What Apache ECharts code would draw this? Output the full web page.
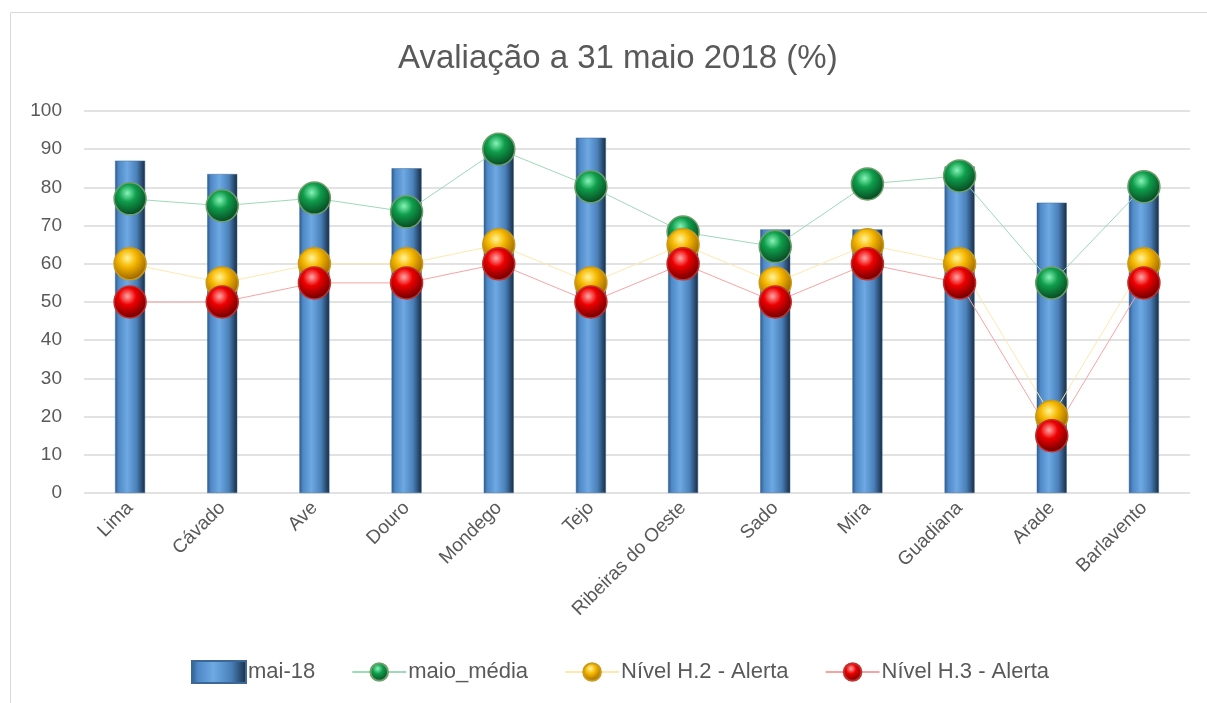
<!DOCTYPE html>
<html>
<head>
<meta charset="utf-8">
<script src="https://cdn.jsdelivr.net/npm/echarts@6/dist/echarts.min.js"></script>
<style>
  html, body { margin: 0; padding: 0; background: #fff; }
  #chart { width: 1207px; height: 703px; }
</style>
</head>
<body>
<div id="chart"></div>
<script>
// dados
const categorias = ["Lima", "Cávado", "Ave", "Douro", "Mondego", "Tejo", "Ribeiras do Oeste", "Sado", "Mira", "Guadiana", "Arade", "Barlavento"];
const mai18 = [87, 83.5, 76, 85, 92, 93, 64.5, 69, 69, 85.5, 76, 78];
const maioMedia = [77, 75.2, 77.2, 73.6, 90, 80.2, 68.3, 64.5, 80.9, 83, 55, 80.2];
const nivelH2 = [60, 55, 60, 60, 65, 55, 65, 55, 65, 60, 20, 60];
const nivelH3 = [50, 50, 55, 55, 60, 50, 60, 50, 60, 55, 15, 55];

const fonte = "'Liberation Sans', sans-serif";

function esfera(claro, meio, escuro) {
  return {
    type: "radial", x: 0.42, y: 0.33, r: 0.65,
    colorStops: [
      { offset: 0, color: claro },
      { offset: 0.4, color: meio },
      { offset: 1, color: escuro }
    ]
  };
}

const barraCor = {
  type: "linear", x: 0, y: 0, x2: 1, y2: 0,
  colorStops: [
    { offset: 0, color: "#2c5a8e" },
    { offset: 0.12, color: "#4f88c6" },
    { offset: 0.4, color: "#6ea9e3" },
    { offset: 0.72, color: "#4a80ba" },
    { offset: 1, color: "#172b42" }
  ]
};

function linha(nome, dados, corLinha, cor, borda) {
  return {
    name: nome,
    type: "line",
    data: dados,
    symbol: "circle",
    symbolSize: 32,
    lineStyle: { color: corLinha, width: 1 },
    itemStyle: { color: cor, borderColor: borda, borderWidth: 1.5 },
    emphasis: { disabled: true }
  };
}

const myChart = echarts.init(document.getElementById("chart"));
myChart.setOption({
  animation: false,
  textStyle: { fontFamily: fonte },
  title: {
    text: "Avaliação a 31 maio 2018 (%)",
    left: 393,
    top: 37,
    textStyle: { fontSize: 33, fontWeight: "normal", color: "#595959", fontFamily: fonte }
  },
  graphic: [{
    type: "rect",
    shape: { x: 10.5, y: 12.5, width: 1210, height: 720 },
    style: { fill: "none", stroke: "#d9d9d9", lineWidth: 1 },
    silent: true
  }],
  grid: { left: 84, right: 17, top: 111, bottom: 210 },
  legend: {
    bottom: 14,
    left: 186,
    itemWidth: 54,
    itemHeight: 22,
    itemGap: 36,
    textStyle: { fontSize: 22, color: "#595959", fontFamily: fonte, padding: [0, 0, 0, -3] },
    data: [
      { name: "mai-18", icon: "rect", itemStyle: { color: barraCor } },
      "maio_média", "Nível H.2 - Alerta", "Nível H.3 - Alerta"
    ]
  },
  xAxis: {
    type: "category",
    data: categorias,
    axisLine: { show: false },
    axisTick: { show: false },
    axisLabel: { rotate: 45, fontSize: 19, color: "#595959", margin: 12, interval: 0 }
  },
  yAxis: {
    type: "value",
    min: 0,
    max: 100,
    interval: 10,
    axisLabel: { fontSize: 19, color: "#595959", margin: 22 },
    splitLine: { lineStyle: { color: "#d9d9d9", width: 1.5 } }
  },
  series: [
    {
      name: "mai-18",
      type: "bar",
      data: mai18,
      barWidth: 30,
      itemStyle: { color: barraCor, borderColor: "#3d6896", borderWidth: 0.5 },
      emphasis: { disabled: true }
    },
    linha("maio_média", maioMedia, "#9ed9b8", esfera("#86f5b8", "#0f9e4c", "#084a22"), "#6f9f6a"),
    linha("Nível H.2 - Alerta", nivelH2, "#fde8b0", esfera("#fff59a", "#f6b800", "#9c6400"), "#c89a1e"),
    linha("Nível H.3 - Alerta", nivelH3, "#f7a3a3", esfera("#ffa8a8", "#ee0000", "#6e0000"), "#c23030")
  ]
});
</script>
</body>
</html>
